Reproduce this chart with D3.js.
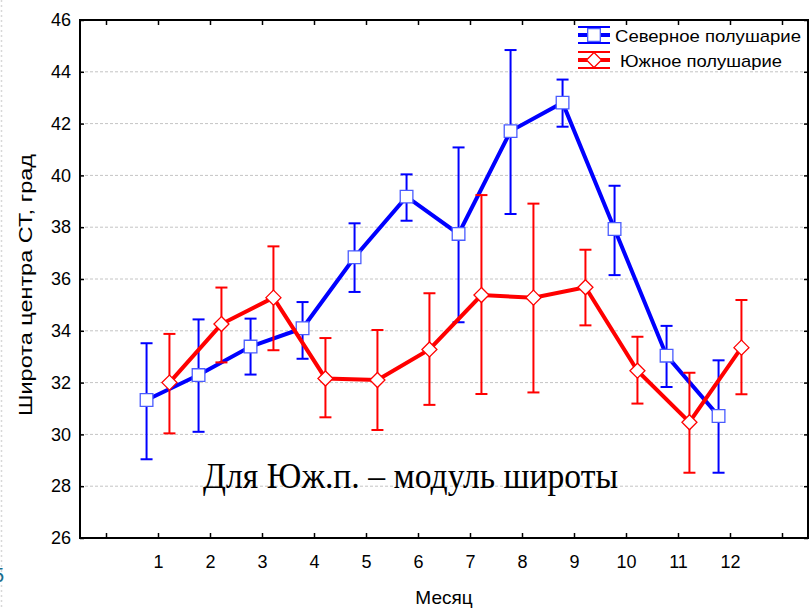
<!DOCTYPE html>
<html>
<head>
<meta charset="utf-8">
<script src="https://cdn.jsdelivr.net/npm/d3@7"></script>
<style>
  html, body { margin: 0; padding: 0; background: #fff; }
  svg { display: block; }
  text { font-family: "Liberation Sans", Arial, sans-serif; fill: #000; }
</style>
</head>
<body>
<svg id="chart" width="810" height="608"></svg>
<script>
// Monthly latitude of the centre (mean with confidence bounds), by hemisphere
const months = [1, 2, 3, 4, 5, 6, 7, 8, 9, 10, 11, 12];

const northMean = [31.33, 32.29, 33.39, 34.10, 36.84, 39.18, 37.74, 41.71, 42.81, 37.93, 33.04, 30.71];
const northLow  = [29.04, 30.10, 32.31, 32.92, 35.50, 38.25, 34.33, 38.51, 41.88, 36.15, 31.83, 28.52];
const northHigh = [33.52, 34.44, 34.47, 35.11, 38.15, 40.04, 41.08, 44.84, 43.70, 39.60, 34.19, 32.86];

const southMean = [32.00, 34.26, 35.28, 32.16, 32.10, 33.28, 35.38, 35.28, 35.68, 32.46, 30.47, 33.35];
const southLow  = [30.04, 32.78, 33.25, 30.66, 30.17, 31.14, 31.56, 31.62, 34.21, 31.19, 28.52, 31.55];
const southHigh = [33.88, 35.67, 37.26, 33.72, 34.03, 35.45, 39.24, 38.91, 37.13, 33.77, 32.38, 35.19];

const xTicks = d3.range(0, 14);
const yTicks = [26, 28, 30, 32, 34, 36, 38, 40, 42, 44, 46];
const seriesNames = ["Северное полушарие", "Южное полушарие"];
const xTitle = "Месяц";
const yTitle = "Широта центра СТ, град";
const note = "Для Юж.п. – модуль широты";

const svg = d3.select("#chart");
const plot = { left: 80, right: 808, top: 20, bottom: 538 };

const x = d3.scaleLinear().domain([-0.5, 13.5]).range([plot.left, plot.right]);
const y = d3.scaleLinear().domain([26, 46]).range([plot.bottom, plot.top]);

// faint page edge and a clipped slide number at the far left
svg.append("line")
  .attr("x1", 1.5).attr("x2", 1.5).attr("y1", 0).attr("y2", 608)
  .attr("stroke", "#d8d8d8").attr("stroke-width", 1.5).attr("stroke-dasharray", "2,3");
svg.append("text").attr("x", -7).attr("y", 582)
  .style("font-size", "20px").style("fill", "#1a6e8e").text("5");

// dashed horizontal gridlines
svg.append("g").selectAll("line")
  .data(yTicks.filter(v => v > 26 && v < 46))
  .join("line")
  .attr("x1", plot.left).attr("x2", plot.right)
  .attr("y1", d => y(d)).attr("y2", d => y(d))
  .attr("stroke", "#c4c4c4").attr("stroke-width", 1).attr("stroke-dasharray", "3,2");

// axes with inward ticks
const fmtMonth = d => (d >= 1 && d <= 12 ? String(d) : "");
const gB = svg.append("g").attr("transform", `translate(0,${plot.bottom})`)
  .call(d3.axisBottom(x).tickValues(xTicks).tickFormat(fmtMonth).tickSize(-5).tickPadding(17));
const gT = svg.append("g").attr("transform", `translate(0,${plot.top})`)
  .call(d3.axisTop(x).tickValues(xTicks).tickFormat("").tickSize(-5));
const gL = svg.append("g").attr("transform", `translate(${plot.left},0)`)
  .call(d3.axisLeft(y).tickValues(yTicks).tickFormat(d3.format("d")).tickSize(-4).tickPadding(9));
const gR = svg.append("g").attr("transform", `translate(${plot.right},0)`)
  .call(d3.axisRight(y).tickValues(yTicks).tickFormat("").tickSize(-4));

[gB, gT, gL, gR].forEach(g => {
  g.select(".domain").remove();
  g.selectAll(".tick line").attr("stroke", "#000").attr("stroke-width", 1.5);
  g.selectAll(".tick text").style("font-size", "18px").style("font-family", "'Liberation Sans', Arial, sans-serif").attr("fill", "#000");
});

// plot frame
svg.append("rect")
  .attr("x", plot.left).attr("y", plot.top)
  .attr("width", plot.right - plot.left).attr("height", plot.bottom - plot.top)
  .attr("fill", "none").attr("stroke", "#000").attr("stroke-width", 2);

// note inside the plot
svg.append("text")
  .attr("x", 203).attr("y", 488)
  .attr("textLength", 415).attr("lengthAdjust", "spacingAndGlyphs")
  .style("font-family", "'Liberation Serif', 'DejaVu Serif', serif")
  .style("font-size", "36px")
  .text(note);

// series
const series = [
  { mean: northMean, low: northLow, high: northHigh, color: "#0000ff", offset: -0.22, marker: "square" },
  { mean: southMean, low: southLow, high: southHigh, color: "#ff0000", offset: 0.22, marker: "diamond" }
];

const sqSym = d3.symbol().type(d3.symbolSquare).size(160);
const diaPath = s => `M0,${-s}L${s},0L0,${s}L${-s},0Z`;

series.forEach(s => {
  const g = svg.append("g");
  const pts = months.map((m, i) => ({ m, v: s.mean[i], lo: s.low[i], hi: s.high[i] }));
  const px = d => x(d.m + s.offset);

  // error bars
  const eb = g.append("g").attr("stroke", s.color).attr("stroke-width", 2);
  eb.selectAll(".v").data(pts).join("line")
    .attr("x1", px).attr("x2", px).attr("y1", d => y(d.lo)).attr("y2", d => y(d.hi));
  eb.selectAll(".t").data(pts).join("line")
    .attr("x1", d => px(d) - 6).attr("x2", d => px(d) + 6)
    .attr("y1", d => y(d.hi)).attr("y2", d => y(d.hi));
  eb.selectAll(".b").data(pts).join("line")
    .attr("x1", d => px(d) - 6).attr("x2", d => px(d) + 6)
    .attr("y1", d => y(d.lo)).attr("y2", d => y(d.lo));

  // connecting line
  g.append("path").datum(pts)
    .attr("fill", "none").attr("stroke", s.color).attr("stroke-width", 4)
    .attr("stroke-linejoin", "miter")
    .attr("d", d3.line().x(px).y(d => y(d.v)));

  // markers
  g.selectAll(".mk").data(pts).join("path")
    .attr("transform", d => `translate(${px(d)},${y(d.v)})`)
    .attr("d", s.marker === "square" ? sqSym() : diaPath(7.5))
    .attr("fill", "#fff")
    .attr("stroke", s.marker === "square" ? "#4a5cff" : s.color)
    .attr("stroke-width", 1.3);
});

// legend
const legendRows = [
  { name: seriesNames[0], color: "#0000ff", marker: "square", cy: 35, tx: 615, tl: 186 },
  { name: seriesNames[1], color: "#ff0000", marker: "diamond", cy: 60, tx: 620, tl: 162 }
];
const lg = svg.append("g");
legendRows.forEach(r => {
  const row = lg.append("g").attr("transform", `translate(594,${r.cy})`);
  row.append("line").attr("x1", -16).attr("x2", 16).attr("y1", -8).attr("y2", -8)
    .attr("stroke", r.color).attr("stroke-width", 2);
  row.append("line").attr("x1", -16).attr("x2", 16).attr("y1", 8).attr("y2", 8)
    .attr("stroke", r.color).attr("stroke-width", 2);
  row.append("line").attr("x1", -16).attr("x2", 16).attr("y1", 0).attr("y2", 0)
    .attr("stroke", r.color).attr("stroke-width", 4);
  row.append("path")
    .attr("d", r.marker === "square" ? sqSym() : diaPath(7.5))
    .attr("fill", "#fff")
    .attr("stroke", r.marker === "square" ? "#4a5cff" : r.color)
    .attr("stroke-width", 1.3);
  lg.append("text").attr("x", r.tx).attr("y", r.cy + 7)
    .attr("textLength", r.tl).attr("lengthAdjust", "spacingAndGlyphs")
    .style("font-size", "17px").text(r.name);
});

// axis titles
svg.append("text")
  .attr("x", (plot.left + plot.right) / 2).attr("y", 604)
  .attr("text-anchor", "middle").style("font-size", "19px")
  .text(xTitle);

svg.append("text")
  .attr("transform", `translate(32,285) rotate(-90)`)
  .attr("text-anchor", "middle")
  .attr("textLength", 262).attr("lengthAdjust", "spacingAndGlyphs")
  .style("font-size", "19px")
  .text(yTitle);
</script>
</body>
</html>
